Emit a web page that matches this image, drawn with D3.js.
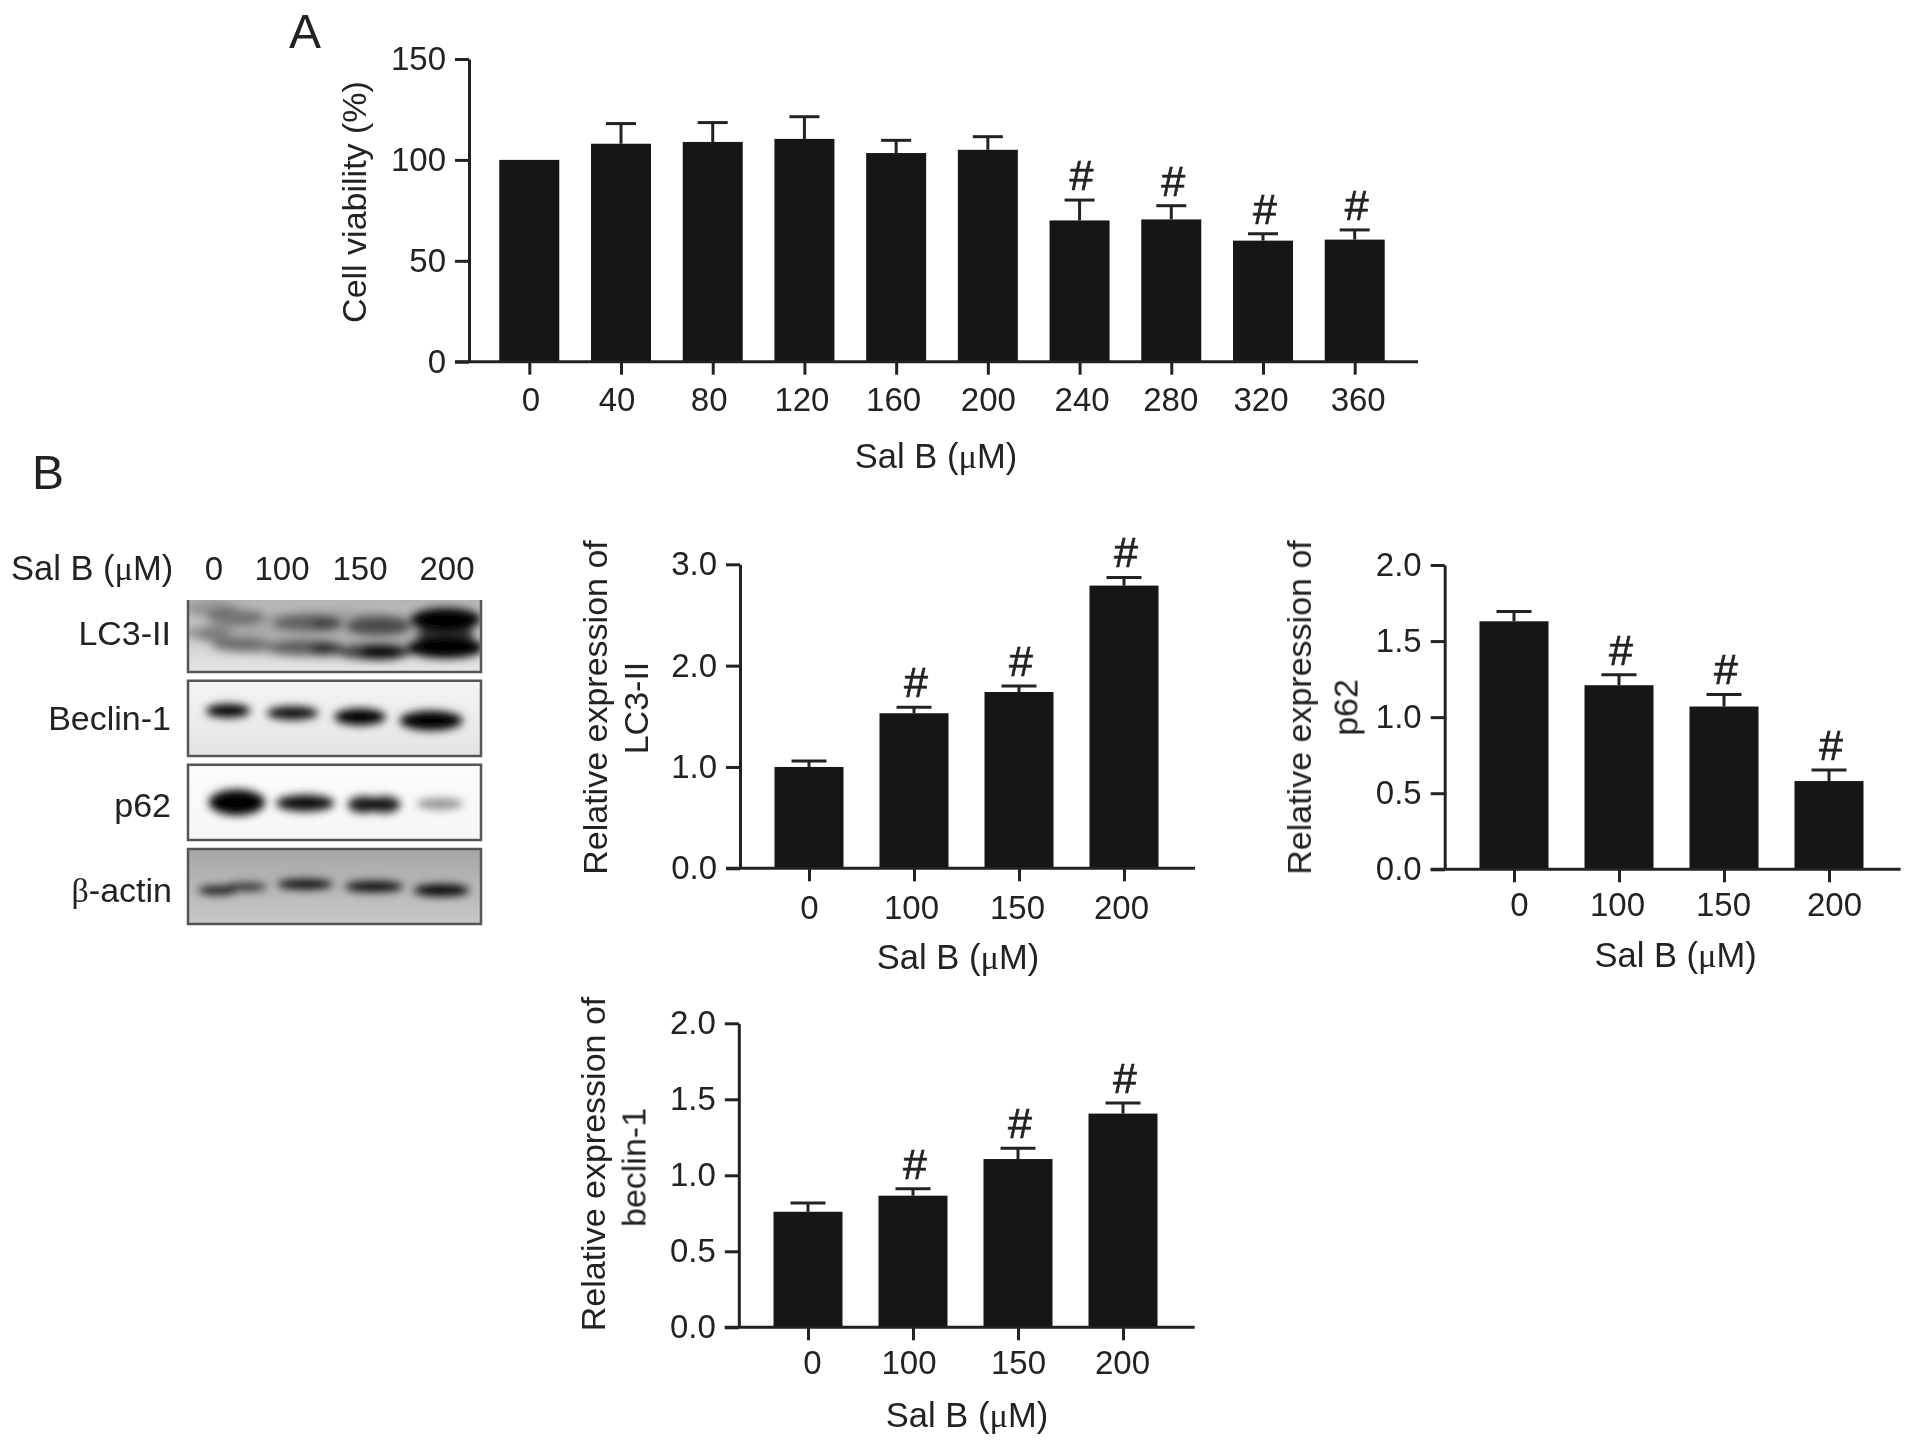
<!DOCTYPE html>
<html>
<head>
<meta charset="utf-8">
<title>Sal B</title>
<script src="https://cdn.jsdelivr.net/npm/d3@7"></script>
<style>
	html, body { margin: 0; background: #fff; }
	svg { display: block; }
	text { font-family: "Liberation Sans", Arial, sans-serif; fill: #222; }
	.greek { font-family: "Liberation Serif", serif; }
</style>
</head>
<body>
<svg id="canvas"></svg>
<script>
// Panel A, viability
const viabilityDoses = ['0', '40', '80', '120', '160', '200', '240', '280', '320', '360'],
	viabilityMeans = [100, 108, 108.9, 110.4, 103.4, 105, 70, 70.5, 60, 60.5],
	viabilityErrors = [0, 10, 9.6, 11, 6.3, 6.5, 10.1, 6.8, 3.4, 4.8],
	viabilityMarks = [0, 0, 0, 0, 0, 0, 1, 1, 1, 1],
	viabilityTicks = [0, 50, 100, 150];

// Panel B, densitometry
const blotDoses = ['0', '100', '150', '200'],
	lc3Means = [1.0, 1.53, 1.74, 2.79],
	lc3Errors = [0.06, 0.06, 0.06, 0.08],
	lc3Marks = [0, 1, 1, 1],
	lc3Ticks = [0, 1, 2, 3],
	p62Means = [1.63, 1.21, 1.07, 0.58],
	p62Errors = [0.065, 0.068, 0.079, 0.073],
	p62Marks = [0, 1, 1, 1],
	beclinMeans = [0.76, 0.866, 1.107, 1.406],
	beclinErrors = [0.057, 0.046, 0.071, 0.07],
	beclinMarks = [0, 1, 1, 1],
	halfTicks = [0, 0.5, 1, 1.5, 2];

// Blot bands: [x %, y %, rx %, ry %, darkness]
const lc3Bands = [
	[50, 48, 46, 34, 0.16], [8, 12, 9, 11, 0.2], [16, 23, 10, 11, 0.34], [7, 46, 8, 10, 0.27], [18, 62, 10, 10, 0.38],
	[41, 32, 12, 11, 0.42], [47, 33, 5, 8, 0.35], [40, 66, 13, 10, 0.48], [47, 68, 5, 8, 0.55],
	[65, 36, 11, 13, 0.55], [64, 72, 13, 11, 0.65], [66, 73, 7, 9, 0.85],
	[88, 27, 12, 16, 1], [88, 47, 10, 12, 0.65], [88, 66, 13, 15, 1]
],
	beclinBands = [
		[13.7, 40, 7.6, 9, 1], [35.7, 43, 8.8, 9, 0.95], [58.7, 48, 8.8, 11, 1], [83, 53, 10.8, 13, 1]
	],
	p62Bands = [
		[16.7, 50, 9.6, 17, 1], [40, 51, 10, 11, 0.95], [60, 53, 5.5, 11, 0.9], [67, 53, 5.5, 11, 0.9], [86, 52, 8, 7.5, 0.42]
	],
	actinBands = [
		[10, 55, 6.5, 5.5, 0.95], [20, 50.5, 7, 5, 0.85], [40, 47, 9.6, 6.5, 1], [63.5, 50, 10, 7, 1], [86.5, 55, 9.6, 8, 1]
	];

const canvasWidth = 1913,
	canvasHeight = 1447,
	fontSize = 33,
	titleSize = 34,
	axisColor = '#222',
	barColor = '#161616',
	svg = d3.select('svg#canvas')
		.attr('width', canvasWidth)
		.attr('height', canvasHeight);

const defs = svg.append('defs');
defs.append('filter').attr('id', 'soft')
	.attr('x', '-5%').attr('y', '-5%').attr('width', '110%').attr('height', '110%')
	.append('feGaussianBlur').attr('stdDeviation', 0.6);
defs.append('filter').attr('id', 'bandBlur')
	.attr('x', '-60%').attr('y', '-60%').attr('width', '220%').attr('height', '220%')
	.append('feGaussianBlur').attr('stdDeviation', 4.2);

const figure = svg.append('g').attr('filter', 'url(#soft)');

// Panels
drawBars({
	doses: viabilityDoses, means: viabilityMeans, errors: viabilityErrors, marks: viabilityMarks,
	ticks: viabilityTicks, yFormat: d3.format('d'), yMax: 150,
	axisX: 469, top: 59, bottom: 361.7, xStart: 529.3, xEnd: 1354.7, axisEnd: 1418,
	barWidth: 60, capWidth: 30, tickLabelY: 400, labelNudge: [1, -4.5, -4, -3, -3, 0, 2, -1, -2.5, 3],
	xLabel: [936, 456], yTitle: [[354, 202, 'Cell viability (%)']]
});

drawBars({
	doses: blotDoses, means: lc3Means, errors: lc3Errors, marks: lc3Marks,
	ticks: lc3Ticks, yFormat: d3.format('.1f'), yMax: 3,
	axisX: 740, top: 564.3, bottom: 868.3, xStart: 809, xEnd: 1124, axisEnd: 1195,
	barWidth: 69, capWidth: 35, tickLabelY: 908, labelNudge: [0, -3, -2, -3],
	xLabel: [958, 957], yTitle: [[595, 707.5, 'Relative expression of'], [636, 708, 'LC3-II']]
});

drawBars({
	doses: blotDoses, means: p62Means, errors: p62Errors, marks: p62Marks,
	ticks: halfTicks, yFormat: d3.format('.1f'), yMax: 2,
	axisX: 1444.7, top: 565, bottom: 869.3, xStart: 1514, xEnd: 1829, axisEnd: 1900.6,
	barWidth: 69, capWidth: 35, tickLabelY: 905, labelNudge: [5, -2, -1, 5],
	xLabel: [1675.7, 955], yTitle: [[1299, 707.5, 'Relative expression of'], [1345.5, 707.5, 'p62']]
});

drawBars({
	doses: blotDoses, means: beclinMeans, errors: beclinErrors, marks: beclinMarks,
	ticks: halfTicks, yFormat: d3.format('.1f'), yMax: 2,
	axisX: 738.8, top: 1023.3, bottom: 1327.3, xStart: 808, xEnd: 1123, axisEnd: 1194.7,
	barWidth: 69, capWidth: 35, tickLabelY: 1363, labelNudge: [4, -4.5, 0, -1],
	xLabel: [967, 1415], yTitle: [[592.6, 1164, 'Relative expression of'], [633.5, 1167.5, 'beclin-1']]
});

// Blots
drawBlot({ y0: 600, y1: 672, bands: lc3Bands, bgTop: '#b4b4b4', bgBottom: '#e6e6e6', openTop: true });
drawBlot({ y0: 680.7, y1: 756, bands: beclinBands, bgTop: '#f4f4f4', bgBottom: '#e4e4e4' });
drawBlot({ y0: 764.7, y1: 840, bands: p62Bands, bgTop: '#fbfbfb', bgBottom: '#f6f6f6' });
drawBlot({ y0: 849, y1: 924, bands: actinBands, bgTop: '#a6a6a6', bgBottom: '#c8c8c8' });

salLabel(figure.append('text'), 11, 568, 'start');
const laneLabelX = d3.scaleOrdinal().domain(blotDoses).range([214, 282, 360, 447]);
figure.selectAll('text.lane').data(blotDoses).enter().append('text')
	.classed('lane', true)
	.attr('x', d => laneLabelX(d))
	.attr('y', 568)
	.attr('text-anchor', 'middle')
	.attr('dominant-baseline', 'central')
	.attr('font-size', fontSize)
	.text(d => d);

[['LC3-II', 633], ['Beclin-1', 718], ['p62', 805]].forEach(d => {
	figure.append('text')
		.attr('x', 171).attr('y', d[1])
		.attr('text-anchor', 'end')
		.attr('dominant-baseline', 'central')
		.attr('font-size', titleSize)
		.text(d[0]);
});
const actinLabel = figure.append('text')
	.attr('x', 172).attr('y', 890)
	.attr('text-anchor', 'end')
	.attr('dominant-baseline', 'central')
	.attr('font-size', titleSize);
actinLabel.append('tspan').classed('greek', true).text('β');
actinLabel.append('tspan').text('-actin');

// Panel letters
figure.append('text').attr('x', 305).attr('y', 31).attr('text-anchor', 'middle')
	.attr('dominant-baseline', 'central').attr('font-size', 48).text('A');
figure.append('text').attr('x', 48).attr('y', 472).attr('text-anchor', 'middle')
	.attr('dominant-baseline', 'central').attr('font-size', 48).text('B');


function salLabel(sel, x, y, anchor) {
	sel.attr('x', x).attr('y', y)
		.attr('text-anchor', anchor)
		.attr('dominant-baseline', 'central')
		.attr('font-size', 34.5);
	sel.append('tspan').text('Sal B (');
	sel.append('tspan').classed('greek', true).text('μ');
	sel.append('tspan').text('M)');
	return sel;
}

function drawBars(p) {
	const g = figure.append('g'),
		x = d3.scalePoint().domain(p.doses).range([p.xStart, p.xEnd]),
		y = d3.scaleLinear().domain([0, p.yMax]).range([p.bottom, p.top]),
		rows = p.doses.map((d, i) => ({ dose: d, mean: p.means[i], err: p.errors[i], mark: p.marks[i] }));

	// error bars sit behind the bars
	const err = g.selectAll('g.err').data(rows.filter(d => d.err > 0)).enter().append('g').classed('err', true);
	err.append('line')
		.attr('x1', d => x(d.dose)).attr('x2', d => x(d.dose))
		.attr('y1', d => y(d.mean)).attr('y2', d => y(d.mean + d.err))
		.attr('stroke', axisColor).attr('stroke-width', 3);
	err.append('line')
		.attr('x1', d => x(d.dose) - p.capWidth / 2).attr('x2', d => x(d.dose) + p.capWidth / 2)
		.attr('y1', d => y(d.mean + d.err)).attr('y2', d => y(d.mean + d.err))
		.attr('stroke', axisColor).attr('stroke-width', 3);

	g.selectAll('rect.bar').data(rows).enter().append('rect')
		.classed('bar', true)
		.attr('x', d => x(d.dose) - p.barWidth / 2)
		.attr('width', p.barWidth)
		.attr('y', d => y(d.mean))
		.attr('height', d => y(0) - y(d.mean))
		.attr('fill', barColor);

	g.selectAll('text.mark').data(rows.filter(d => d.mark)).enter().append('text')
		.classed('mark', true)
		.attr('x', d => x(d.dose) + 2)
		.attr('y', d => y(d.mean + d.err) - 25)
		.attr('text-anchor', 'middle')
		.attr('dominant-baseline', 'central')
		.attr('font-size', 43)
		.attr('stroke', '#222')
		.attr('stroke-width', 0.7)
		.text('#');

	const yAxis = g.append('g')
		.attr('transform', `translate(${p.axisX},0)`)
		.call(d3.axisLeft(y).tickValues(p.ticks).tickFormat(p.yFormat).tickSize(14).tickSizeOuter(0).tickPadding(9));
	const xAxis = g.append('g')
		.attr('transform', `translate(0,${p.bottom})`)
		.call(d3.axisBottom(x).tickSize(13).tickSizeOuter(0));
	xAxis.select('.domain').remove();
	xAxis.selectAll('text')
		.attr('y', p.tickLabelY - p.bottom)
		.attr('dy', 0)
		.attr('dominant-baseline', 'central')
		.attr('dx', (d, i) => p.labelNudge[i]);
	g.append('line')
		.attr('x1', p.axisX - 14).attr('x2', p.axisEnd)
		.attr('y1', p.bottom).attr('y2', p.bottom)
		.attr('stroke', axisColor).attr('stroke-width', 3);

	[yAxis, xAxis].forEach(a => {
		a.attr('font-family', null);
		a.selectAll('.domain').attr('stroke', axisColor).attr('stroke-width', 3);
		a.selectAll('.tick line').attr('stroke', axisColor).attr('stroke-width', 3);
		a.selectAll('text').attr('font-size', fontSize).attr('fill', '#222');
	});

	salLabel(g.append('text'), p.xLabel[0], p.xLabel[1], 'middle');

	p.yTitle.forEach(t => {
		g.append('text')
			.attr('transform', `translate(${t[0]},${t[1]}) rotate(-90)`)
			.attr('text-anchor', 'middle')
			.attr('dominant-baseline', 'central')
			.attr('font-size', titleSize)
			.text(t[2]);
	});
}

function drawBlot(b) {
	const left = 188,
		right = 481,
		x = d3.scaleLinear().domain([0, 100]).range([left, right]),
		y = d3.scaleLinear().domain([0, 100]).range([b.y0, b.y1]),
		id = 'blot' + Math.round(b.y0);

	const grad = defs.append('linearGradient').attr('id', id + 'bg')
		.attr('x1', 0).attr('x2', 0).attr('y1', 0).attr('y2', 1);
	grad.append('stop').attr('offset', '0%').attr('stop-color', b.bgTop);
	grad.append('stop').attr('offset', '100%').attr('stop-color', b.bgBottom);

	defs.append('clipPath').attr('id', id + 'clip')
		.append('rect')
		.attr('x', left).attr('y', b.y0)
		.attr('width', right - left).attr('height', b.y1 - b.y0);

	const g = figure.append('g');
	g.append('rect')
		.attr('x', left).attr('y', b.y0)
		.attr('width', right - left).attr('height', b.y1 - b.y0)
		.attr('fill', `url(#${id}bg)`);

	g.append('g')
		.attr('clip-path', `url(#${id}clip)`)
		.append('g')
		.attr('filter', 'url(#bandBlur)')
		.selectAll('ellipse').data(b.bands).enter().append('ellipse')
		.attr('cx', d => x(d[0]))
		.attr('cy', d => y(d[1]))
		.attr('rx', d => x(d[2]) - left)
		.attr('ry', d => y(d[3]) - b.y0)
		.attr('fill', '#000')
		.attr('fill-opacity', d => d[4]);

	// frame round the crop
	const frame = b.openTop
		? `M${left},${b.y0}V${b.y1}H${right}V${b.y0}`
		: `M${left},${b.y0}V${b.y1}H${right}V${b.y0}Z`;
	g.append('path')
		.attr('d', frame)
		.attr('fill', 'none')
		.attr('stroke', '#555')
		.attr('stroke-width', 2.5);
}
</script>
</body>
</html>
